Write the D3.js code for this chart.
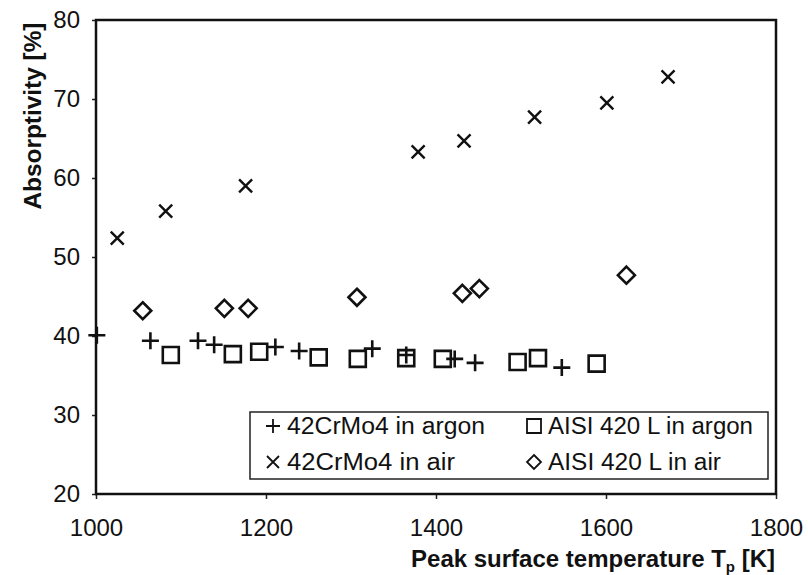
<html lang="en"><head>
<meta http-equiv="Content-Type" content="text/html; charset=UTF-8">
<title>Absorptivity</title>
<script type="text/javascript" src="https://cdn.jsdelivr.net/npm/d3@7"></script>
<style type="text/css">
body { margin: 0; background: #fff; }
text { font-family: "Liberation Sans", Arial, sans-serif; fill: #111; }
</style>
</head>
<body>
<script type="text/javascript">

var width = 808;
var height = 575;

// 42CrMo4 in argon (+)
var plusT = [1001, 1064, 1120, 1139, 1211, 1239, 1325, 1365, 1422, 1446, 1548];
var plusA = [40.1, 39.4, 39.4, 38.9, 38.6, 38.1, 38.4, 37.6, 37.1, 36.6, 36.0];
// AISI 420 L in argon (square)
var squareT = [1088, 1161, 1192, 1262, 1308, 1365, 1408, 1496, 1520, 1589];
var squareA = [37.6, 37.7, 38.0, 37.3, 37.1, 37.2, 37.1, 36.7, 37.2, 36.5];
// 42CrMo4 in air (x)
var crossT = [1025, 1082, 1176, 1379, 1433, 1516, 1601, 1673];
var crossA = [52.4, 55.8, 59.0, 63.3, 64.7, 67.7, 69.5, 72.8];
// AISI 420 L in air (diamond)
var diamondT = [1055, 1151, 1179, 1307, 1431, 1451, 1624];
var diamondA = [43.2, 43.5, 43.5, 44.9, 45.4, 46.0, 47.7];

var xTicks = [1000, 1200, 1400, 1600, 1800];
var yTicks = [20, 30, 40, 50, 60, 70, 80];

var legendRows = [
  [{shape: "plus", label: "42CrMo4 in argon", len: 198}, {shape: "square", label: "AISI 420 L in argon", len: 205}],
  [{shape: "cross", label: "42CrMo4 in air", len: 168}, {shape: "diamond", label: "AISI 420 L in air", len: 173}]
];

var x = d3.scaleLinear().domain([1000, 1800]).range([96, 776]);
var y = d3.scaleLinear().domain([20, 80]).range([494, 20]);

var svg = d3.select("body").append("svg")
  .attr("width", width)
  .attr("height", height);

//marker path, s = half size
function markerPath(shape, s) {
  var p = d3.path();
  if (shape == "plus") {
    p.moveTo(-s, 0); p.lineTo(s, 0);
    p.moveTo(0, -s); p.lineTo(0, s);
  } else if (shape == "cross") {
    p.moveTo(-s, -s); p.lineTo(s, s);
    p.moveTo(-s, s); p.lineTo(s, -s);
  } else if (shape == "square") {
    p.rect(-s, -s, 2 * s, 2 * s);
  } else if (shape == "diamond") {
    p.moveTo(0, -s); p.lineTo(s, 0); p.lineTo(0, s); p.lineTo(-s, 0); p.closePath();
  }
  return p.toString();
}

// axes
var yAxis = svg.append("g")
  .attr("transform", "translate(96,0)")
  .call(d3.axisLeft(y).tickValues(yTicks).tickSize(4).tickPadding(12).tickFormat(d3.format("d")));
var xAxis = svg.append("g")
  .attr("transform", "translate(0,494)")
  .call(d3.axisBottom(x).tickValues(xTicks).tickSize(5).tickPadding(20).tickFormat(d3.format("d")));

[yAxis, xAxis].forEach(function(a) {
  a.select(".domain").remove();
  a.selectAll("line").attr("stroke", "#222").attr("stroke-width", 1.5);
  a.selectAll("text").attr("font-size", 24).attr("font-family", "Liberation Sans, Arial, sans-serif").attr("fill", "#111");
});

// frame
svg.append("rect")
  .attr("x", x(1000)).attr("y", y(80))
  .attr("width", x(1800) - x(1000)).attr("height", y(20) - y(80))
  .attr("fill", "none").attr("stroke", "#111").attr("stroke-width", 2.5);

// series
var series = [
  {shape: "plus", t: plusT, a: plusA, s: 8.5, w: 2.6},
  {shape: "square", t: squareT, a: squareA, s: 8, w: 2.6},
  {shape: "cross", t: crossT, a: crossA, s: 6.5, w: 2.4},
  {shape: "diamond", t: diamondT, a: diamondA, s: 8.5, w: 2.6}
];

series.forEach(function(ser) {
  svg.append("g").selectAll("path")
    .data(ser.t.map(function(t, i) { return {t: t, a: ser.a[i]}; }))
    .enter().append("path")
    .attr("transform", function(d) { return "translate(" + x(d.t) + "," + y(d.a) + ")"; })
    .attr("d", markerPath(ser.shape, ser.s))
    .attr("fill", "none")
    .attr("stroke", "#111")
    .attr("stroke-width", ser.w);
});

// legend
var legend = svg.append("g");
legend.append("rect")
  .attr("x", 250).attr("y", 412).attr("width", 518).attr("height", 67)
  .attr("fill", "#fff").attr("stroke", "#222").attr("stroke-width", 1.5);

var colX = [273, 534];
var rowY = [426, 462];
legendRows.forEach(function(row, r) {
  row.forEach(function(item, c) {
    legend.append("path")
      .attr("transform", "translate(" + colX[c] + "," + rowY[r] + ")")
      .attr("d", markerPath(item.shape, item.shape == "cross" ? 6 : 7))
      .attr("fill", "none").attr("stroke", "#111").attr("stroke-width", 1.8);
    legend.append("text")
      .attr("x", colX[c] + 14).attr("y", rowY[r] + 8)
      .attr("font-size", 23)
      .attr("textLength", item.len)
      .attr("lengthAdjust", "spacingAndGlyphs")
      .text(item.label);
  });
});

// axis titles
svg.append("text")
  .attr("transform", "translate(41,116) rotate(-90)")
  .attr("text-anchor", "middle")
  .attr("font-size", 24).attr("font-weight", "bold")
  .attr("textLength", 187)
  .attr("lengthAdjust", "spacingAndGlyphs")
  .text("Absorptivity [%]");

var xt = svg.append("text")
  .attr("x", 775).attr("y", 567)
  .attr("text-anchor", "end")
  .attr("font-size", 24).attr("font-weight", "bold");
xt.append("tspan").text("Peak surface temperature T");
xt.append("tspan").attr("font-size", 15).attr("dy", 5).text("p");
xt.append("tspan").attr("dy", -5).text(" [K]");

</script>
</body></html>
